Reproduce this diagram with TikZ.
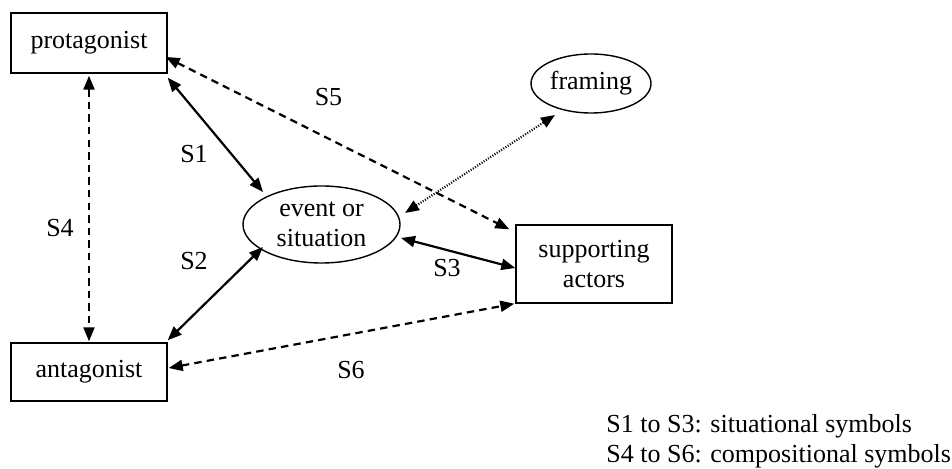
\documentclass[tikz,border=0pt]{standalone}
\usepackage{fontspec}
\setmainfont{Liberation Serif}
\usetikzlibrary{arrows.meta,calc,shapes.geometric}
\begin{document}
\begin{tikzpicture}[x=0.5pt,y=-0.5pt,
  >={Triangle[length=7pt,width=5.5pt]},
  every node/.style={font=\fontsize{13}{15}\selectfont, inner sep=0pt},
  boxnode/.style={draw, line width=0.7pt, rectangle, minimum width=78pt},
  ellnode/.style={draw, line width=0.7pt, ellipse, align=center},
  solidcon/.style={line width=1.1pt, <->},
  dashcon/.style={line width=1.1pt, <->, dash pattern=on 3.7pt off 2.6pt},
  dotcon/.style={line width=1.1pt, <->, dash pattern=on 0.5pt off 0.8pt}]
\useasboundingbox (0,0) rectangle (952,469);
\node[boxnode, minimum height=30pt] (prot) at (89,43) {protagonist};
\node[boxnode, minimum height=29pt] (ant) at (89,372) {antagonist};
\node[boxnode, minimum height=39pt, align=center] (sup) at (594,264) {supporting\\actors};
\node[ellnode, minimum width=78.5pt, minimum height=38.5pt] (event) at (321.5,224.5) {event or\\situation};
\node[ellnode, minimum width=60pt, minimum height=29.5pt] (framing) at (591,83.5) {framing};

\draw[dashcon] ($(prot.south)+(0,2)$) -- ($(ant.north)+(0,-1)$);
\draw[solidcon] ($(prot.south east)+(0,4)$) -- ($(event.center)+(-58.5,-32.5)$);
\draw[solidcon] ($(ant.north east)+(0,-2)$) -- ($(event.center)+(-58.5,22.5)$);
\draw[solidcon] ($(event.center)+(79.5,13.5)$) -- ($(sup.west)+(0,4)$);
\draw[dashcon] ($(prot.east)+(-2,14)$) -- ($(sup.north west)+(-6,5)$);
\draw[dashcon] ($(ant.east)+(1,-4)$) -- ($(sup.south west)+(-1,0)$);
\draw[dotcon] ($(event.center)+(83.5,-11.5)$) -- ($(framing.center)+(-36,31.5)$);

\node (s1) at (194,154) {S1};
\node (s2) at (194,261) {S2};
\node (s3) at (447,268) {S3};
\node (s4) at (60,228.5) {S4};
\node (s5) at (328.5,97.5) {S5};
\node (s6) at (351,370) {S6};

\node[anchor=base west] (leg1) at (606,433) {S1 to S3: situational symbols};
\node[anchor=base west] (leg2) at (606,463) {S4 to S6: compositional symbols};
\end{tikzpicture}
\end{document}
